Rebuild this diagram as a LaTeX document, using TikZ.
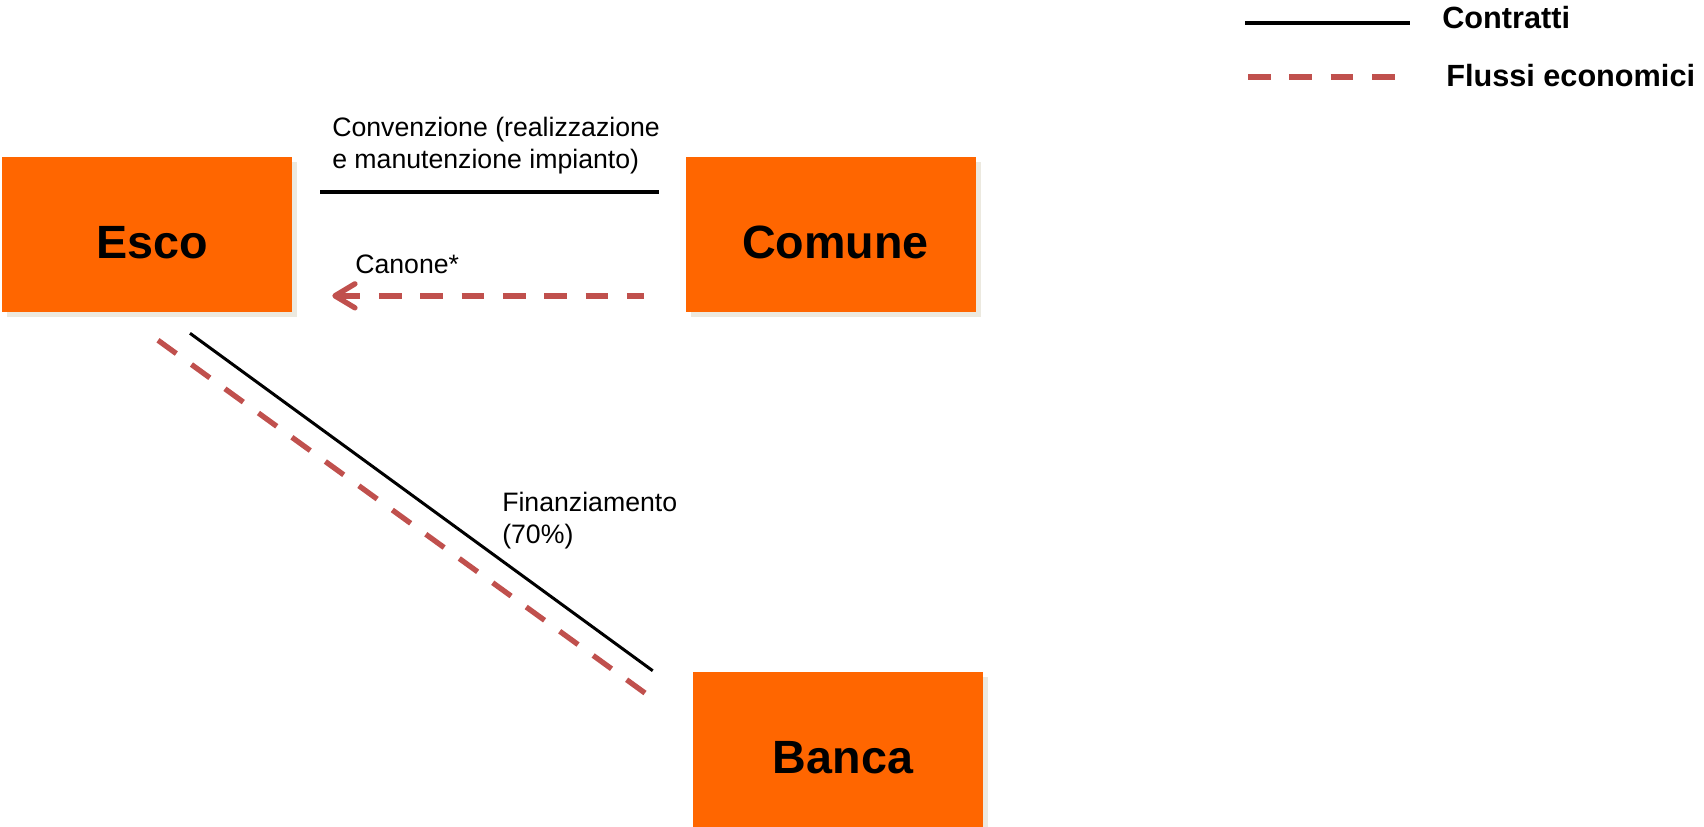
\documentclass[tikz,border=0pt]{standalone}
\usepackage{fontspec}
\setmainfont{Liberation Sans}
\usetikzlibrary{arrows.meta,shadows}
\definecolor{escorange}{HTML}{FF6600}
\definecolor{flowred}{HTML}{C0504D}
\definecolor{shadowgrey}{HTML}{ECE9DF}

\begin{document}
\begin{tikzpicture}[x=0.75pt,y=-0.75pt]
        \tikzset{party/.style = {shape=rectangle,fill=escorange,minimum width=217.5pt,minimum height=116.25pt,inner sep=0pt,font=\fontsize{35}{42}\selectfont\bfseries,text height=36pt,text depth=0pt,execute at begin node=\hspace{7.5pt},general shadow={fill=shadowgrey,shadow xshift=3.75pt,shadow yshift=-4pt}}};
        \tikzset{contract/.style = {draw=black,line width=3pt}};
        \tikzset{flow/.style = {draw=flowred,line width=4pt,dash pattern=on 17pt off 14pt}};
        \tikzset{note/.style = {font=\fontsize{20}{23.5}\selectfont,align=left,inner sep=0pt,anchor=base west}};
        \tikzset{legend/.style = {font=\fontsize{23}{27}\selectfont\bfseries,inner sep=0pt,anchor=base west}};
        \useasboundingbox (0,0) rectangle (1704,826);
        \node[party] (esco) at (147,234.5) {Esco};
        \node[party] (comune) at (830.5,234.5) {Comune};
        \node[party] (banca) at (838,749.5) {Banca};
        \draw[contract,shorten <=21pt,shorten >=20pt] ([yshift=32pt]esco.east) -- ([yshift=32pt]comune.west);
        \node[note] (conv) at (332,168) {Convenzione (realizzazione\\e manutenzione impianto)};
        \draw[flow,{Straight Barb[length=15pt,width=18pt,round]}-,shorten <=30pt,shorten >=30.75pt] ([yshift=-46pt]esco.east) -- ([yshift=-46pt]comune.west);
        \node[note] (canone) at (355,273) {Canone*};
        \draw[contract,line width=2.25pt] ([xshift=32.25pt,yshift=-15.75pt]esco.south) -- ([xshift=-30pt,yshift=0.75pt]banca.north west);
        \draw[flow] ([xshift=8.25pt,yshift=-21pt]esco.south) -- ([xshift=-33pt,yshift=-18pt]banca.north west);
        \node[note] (fin) at (502,543) {Finanziamento\\(70\%)};
        % legenda
        \coordinate (k1) at (1245,23);
        \coordinate (k2) at (1410,23);
        \coordinate (f1) at (1248,77);
        \coordinate (f2) at (1398,77);
        \draw[contract] (k1) -- (k2);
        \draw[flow] (f1) -- (f2);
        \node[legend] (contr) at (1442,28) {Contratti};
        \node[legend] (flussi) at (1446,86) {Flussi economici};
    \end{tikzpicture}
\end{document}
